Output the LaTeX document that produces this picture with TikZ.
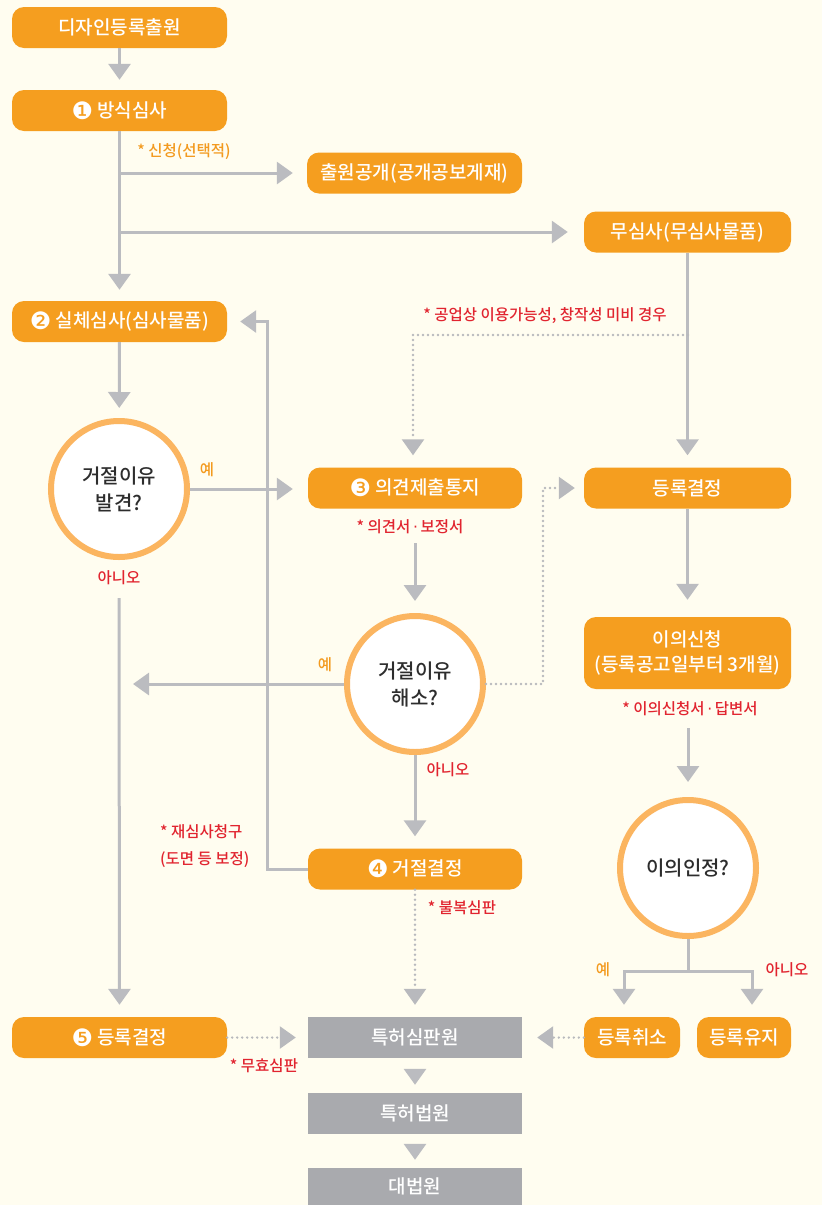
\documentclass[tikz,border=0pt]{standalone}
\usepackage{fontspec}
\setmainfont{Noto Sans CJK KR}[UprightFont=* Medium, BoldFont=* Bold]
\newfontfamily\symf{DejaVu Sans}
\usetikzlibrary{arrows.meta,calc}
\definecolor{bg}{HTML}{FFFDF0}
\definecolor{borange}{HTML}{F59E1F}
\definecolor{ring}{HTML}{FBB560}
\definecolor{lgray}{HTML}{BBBCC0}
\definecolor{dgray}{HTML}{B8B9BD}
\definecolor{bgray}{HTML}{A9AAAE}
\definecolor{lred}{HTML}{E1242F}
\definecolor{lorange}{HTML}{F39A1E}
\definecolor{dtext}{HTML}{2D2D2D}
\newcommand{\cnum}[1]{{\symf\fontsize{24}{24}\selectfont\raisebox{-2pt}{#1}}}
\newcommand{\mdot}{{\symf\,·\,}}
\tikzset{
  obox/.style={fill=borange, rounded corners=12pt, text=white, minimum height=41pt, inner sep=0pt, font=\fontsize{19}{25}\selectfont, align=center},
  gbox/.style={fill=bgray, text=white, minimum height=41pt, inner sep=0pt, font=\fontsize{19}{25}\selectfont},
  dec/.style={circle, draw=ring, line width=6pt, fill=white, minimum size=136pt, inner sep=0pt, text=dtext, font=\fontsize{20}{27}\selectfont, align=center},
  conn/.style={draw=lgray, line width=3pt, -{Triangle[width=22pt,length=16pt]}},
  plain/.style={draw=lgray, line width=3pt},
  dotc/.style={draw=dgray, line width=2.6pt, dash pattern=on 0pt off 5pt, line cap=round, -{Triangle[width=22pt,length=16pt]}},
  rlab/.style={text=lred, font=\fontsize{15.5}{27}\selectfont, inner sep=0pt},
  olab/.style={text=lorange, font=\fontsize{15.5}{17}\selectfont, inner sep=0pt}
}
\begin{document}
\begin{tikzpicture}[x=1pt,y=-1pt]
\fill[bg] (0,0) rectangle (822,1205);
\useasboundingbox (0,0) rectangle (822,1205);

% boxes
\node[obox, minimum width=215pt] (n1) at (119.5,27.5) {디자인등록출원};
\node[obox, minimum width=215pt] (n2) at (119.5,110.5) {\cnum{❶} 방식심사};
\node[obox, minimum width=215pt] (pub) at (414.5,173) {출원공개(공개공보게재)};
\node[obox, minimum width=207pt] (nosim) at (687.5,232) {무심사(무심사물품)};
\node[obox, minimum width=215pt] (n3) at (119.5,321.5) {\cnum{❷} 실체심사(심사물품)};
\node[dec] (c1) at (119,489) {거절이유\\발견?};
\node[obox, minimum width=214pt] (op) at (415,488) {\cnum{❸} 의견제출통지};
\node[obox, minimum width=207pt] (reg) at (687.5,488) {등록결정};
\node[dec] (c2) at (415,684) {거절이유\\해소?};
\node[obox, minimum width=207pt, minimum height=72pt] (obj) at (687.5,653) {이의신청\\(등록공고일부터 3개월)};
\node[dec] (c3) at (688,868) {이의인정?};
\node[obox, minimum width=214pt] (rej) at (415,869) {\cnum{❹} 거절결정};
\node[obox, minimum width=215pt] (reg5) at (119.5,1037.5) {\cnum{❺} 등록결정};
\node[gbox, minimum width=214pt] (trial) at (415,1037.5) {특허심판원};
\node[obox, minimum width=96pt] (cancel) at (632,1037.5) {등록취소};
\node[obox, minimum width=94pt] (keep) at (744,1037.5) {등록유지};
\node[gbox, minimum width=214pt] (court) at (415,1113.5) {특허법원};
\node[gbox, minimum width=214pt, minimum height=37pt] (supreme) at (415,1186.5) {대법원};

% labels
\node[olab] (l1) at (184,152) {* 신청(선택적)};
\node[rlab] (l2) at (545,316) {* 공업상 이용가능성, 창작성 미비 경우};
\node[olab] (l3) at (207,470) {예};
\node[rlab] (l4) at (119,578) {아니오};
\node[rlab] (l5) at (410,527) {* 의견서\mdot 보정서};
\node[olab] (l6) at (325,665) {예};
\node[rlab] (l7) at (448,770) {아니오};
\node[rlab, align=left, anchor=west] (l8) at (160,846) {* 재심사청구\\(도면 등 보정)};
\node[rlab] (l9) at (462,908) {* 불복심판};
\node[rlab] (l10) at (690,709) {* 이의신청서\mdot 답변서};
\node[olab] (l11) at (603,970) {예};
\node[rlab] (l12) at (787,970) {아니오};
\node[rlab] (l13) at (264,1066) {* 무효심판};

% coordinates
\coordinate (b1) at (119,173);
\coordinate (b2) at (119,232);
\coordinate (a1) at (119,598);
\coordinate (a2) at (415,543);
\coordinate (a3) at (133,684);
\coordinate (d1) at (688,335);
\coordinate (a4) at (688,728);
\coordinate (j3) at (688,971);

% connectors
\draw[conn, shorten >=10pt] (n1) -- (n2);
\draw[conn, shorten >=11pt] (n2) -- (n3);
\draw[conn, shorten >=14pt] (b1) -- (pub.west);
\draw[conn, shorten >=16pt] (b2) -- (nosim.west);
\draw[conn, shorten >=10pt] (n3) -- (c1);
\draw[conn, shorten >=15pt] (c1.east) -- (c1.east -| op.west);
\draw[conn, shorten >=12pt] (a1) -- (reg5.north);
\draw[conn, shorten >=12pt] (a2) -- (c2.north);
\draw[conn] (c2.west) -- (a3);
\draw[dotc, shorten >=9pt] (c2.east) -- (543,684) |- (reg.west);
\draw[conn, shorten >=12pt] (c2.south) -- (rej.north);
\draw[conn, shorten >=13pt] (rej.west) -- ++(-40,0) |- (n3.east);
\draw[dotc, shorten >=12pt] (rej.south) -- (trial.north);
\draw[dotc, shorten >=12pt] (reg5.east) -- (trial.west);
\draw[conn, shorten <=12pt, shorten >=8pt] (trial) -- (court);
\draw[conn, shorten <=11pt, shorten >=8pt] (court) -- (supreme);
\draw[conn, shorten >=12pt] (nosim.south) -- (reg.north);
\draw[dotc, shorten >=12pt] (d1) -| ([xshift=-2pt]op.north);
\draw[conn, shorten >=17pt] (reg.south) -- (obj.north);
\draw[conn, shorten >=15pt] (a4) -- (c3.north);
\draw[plain] (c3.south) -- (j3);
\draw[conn, shorten >=12pt] (j3) -| ([xshift=-8pt]cancel.north);
\draw[conn, shorten >=12pt] (j3) -| ([xshift=8pt]keep.north);
\draw[dotc, shorten >=15pt] (cancel.west) -- (trial.east);
\end{tikzpicture}
\end{document}
